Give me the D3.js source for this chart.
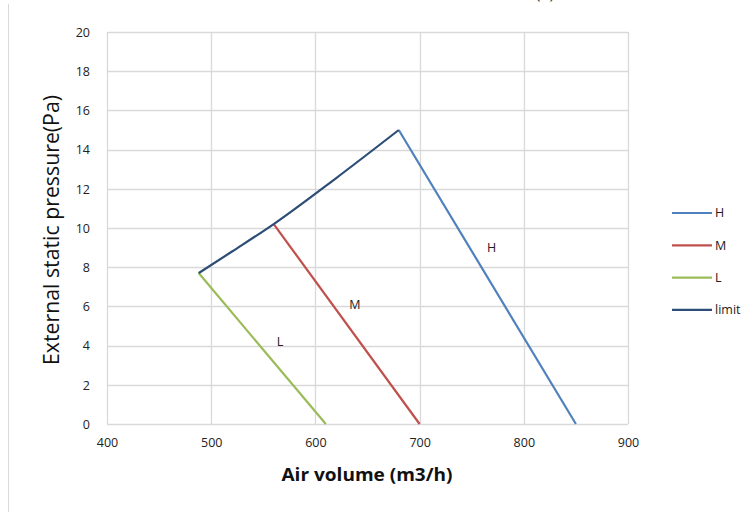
<!DOCTYPE html>
<html><head><meta charset="utf-8">
<script src="https://cdn.jsdelivr.net/npm/d3@7/dist/d3.min.js"></script>
<style>body{margin:0;background:#fff}svg{display:block}</style>
</head><body>
<svg id="c" width="756" height="512"></svg>
<script>
const xTicks = [400, 500, 600, 700, 800, 900];
const yTicks = [0, 2, 4, 6, 8, 10, 12, 14, 16, 18, 20];
const seriesNames = ["H", "M", "L", "limit"];
const seriesColors = ["#4F81BD", "#C0504D", "#9BBB59", "#2C4D75"];
const hX = [680, 850], hY = [15, 0];
const mX = [560, 700], mY = [10.2, 0];
const lX = [488, 610], lY = [7.7, 0];
const limitX = [488, 520, 560, 620, 680];
const limitY = [7.7, 8.8, 10.2, 12.55, 15];
const curveLabels = ["H", "M", "L"];
const labelX = [769, 638, 566];
const labelY = [9.0, 6.1, 4.2];

const svg = d3.select("#c");
const font = "'Open Sans', 'Noto Sans', sans-serif";
const m = {l:107, r:628, t:32, b:424};
const x = d3.scaleLinear().domain([400, 900]).range([m.l, m.r]);
const y = d3.scaleLinear().domain([0, 20]).range([m.b, m.t]);

// outer chart border (left edge visible)
svg.append("line").attr("x1",8.5).attr("x2",8.5).attr("y1",4).attr("y2",512).attr("stroke","#d9d9d9").attr("stroke-width",1);

// title, cut off at the top edge as in the reference
svg.append("text").attr("x",545).attr("y",-1).attr("text-anchor","middle").attr("font-family",font).attr("font-size",16).attr("fill","#333").text("(a)");

// grid
const g = svg.append("g");
g.selectAll(".gy").data(yTicks).join("line").attr("x1",m.l).attr("x2",m.r)
  .attr("y1",d=>Math.round(y(d))+0.5).attr("y2",d=>Math.round(y(d))+0.5).attr("stroke","#d9d9d9").attr("stroke-width",1.3);
g.selectAll(".gx").data(xTicks).join("line").attr("y1",m.t).attr("y2",m.b)
  .attr("x1",d=>Math.round(x(d))+0.5).attr("x2",d=>Math.round(x(d))+0.5).attr("stroke","#d9d9d9").attr("stroke-width",1.3);

// axes
const xa = svg.append("g").attr("transform",`translate(0,${m.b+11})`).call(d3.axisBottom(x).tickValues(xTicks).tickSize(0).tickFormat(d3.format("d")));
xa.select(".domain").remove();
xa.selectAll("text").attr("font-family",font).attr("font-size",12.5).attr("fill","#222");
const ya = svg.append("g").attr("transform",`translate(${m.l-14},0)`).call(d3.axisLeft(y).tickValues(yTicks).tickSize(0).tickFormat(d3.format("d")));
ya.select(".domain").remove();
ya.selectAll("text").attr("font-family",font).attr("font-size",12.5).attr("fill","#222").attr("dy","0.35em");

// lines
const line = d3.line().x(d=>x(d[0])).y(d=>y(d[1]));
const lineCurve = d3.line().x(d=>x(d[0])).y(d=>y(d[1])).curve(d3.curveMonotoneX);
const series = [
  {xs:hX, ys:hY, c:seriesColors[0], gen:line},
  {xs:mX, ys:mY, c:seriesColors[1], gen:line},
  {xs:lX, ys:lY, c:seriesColors[2], gen:line},
  {xs:limitX, ys:limitY, c:seriesColors[3], gen:lineCurve}
];
series.forEach(s=>{
  svg.append("path").attr("d", s.gen(s.xs.map((v,i)=>[v,s.ys[i]])))
    .attr("fill","none").attr("stroke",s.c).attr("stroke-width",2.2).attr("stroke-linejoin","round");
});

// curve labels
curveLabels.forEach((t,i)=>{
  svg.append("text").attr("x",x(labelX[i])).attr("y",y(labelY[i])).attr("dy","0.35em").attr("text-anchor","middle")
    .attr("font-family",font).attr("font-size",12.5).attr("fill","#222").text(t);
});

// legend
seriesNames.forEach((n,i)=>{
  const ly = 213 + i*32.3;
  svg.append("line").attr("x1",672).attr("x2",712).attr("y1",ly).attr("y2",ly).attr("stroke",seriesColors[i]).attr("stroke-width",2.2);
  svg.append("text").attr("x",715).attr("y",ly).attr("dy","0.35em").attr("font-family",font).attr("font-size",12.5).attr("fill","#222").text(n);
});

// axis titles
svg.append("text").attr("x",367).attr("y",481).attr("text-anchor","middle").attr("font-family",font).attr("font-size",18).attr("font-weight","bold").attr("fill","#111")
  .attr("textLength",171).attr("lengthAdjust","spacingAndGlyphs").text("Air volume (m3/h)");
svg.append("text").attr("transform","translate(59,230) rotate(-90)").attr("text-anchor","middle").attr("font-family",font).attr("font-size",21).attr("fill","#111")
  .attr("textLength",270).attr("lengthAdjust","spacingAndGlyphs").text("External static pressure(Pa)");
</script>
</body></html>
